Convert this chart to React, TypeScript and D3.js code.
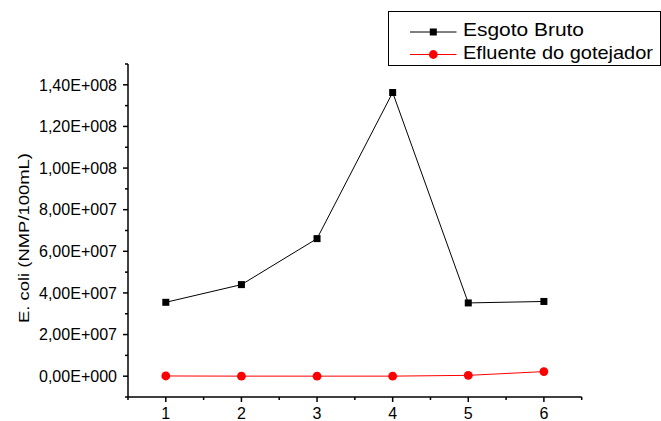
import React, { useEffect, useRef } from "react";
import * as d3 from "d3";

const campaigns = [1, 2, 3, 4, 5, 6];
const esgotoBruto = [3.55e7, 4.4e7, 6.61e7, 1.363e8, 3.52e7, 3.59e7];
const efluenteGotejador = [1.0e5, 3.0e4, 2.0e4, 3.0e4, 4.0e5, 2.2e6];
const yTicks = [0, 2e7, 4e7, 6e7, 8e7, 1e8, 1.2e8, 1.4e8];
const yTickLabels = ["0,00E+000", "2,00E+007", "4,00E+007", "6,00E+007", "8,00E+007", "1,00E+008", "1,20E+008", "1,40E+008"];
const seriesNames = ["Esgoto Bruto", "Efluente do gotejador"];

const FONT = "'Liberation Sans', Arial, sans-serif";

const App = () => {
    const ref = useRef<SVGSVGElement>(null);

    useEffect(() => {
        const svg = d3.select(ref.current);
        svg.selectAll("*").remove();

        const x = d3.scaleLinear().domain([0.5, 6.5]).range([128, 581.7]);
        const y = d3.scaleLinear().domain([-1e7, 1.5e8]).range([397, 64]);

        // axes lines
        const axis = svg.append("g").attr("stroke", "#000").attr("stroke-width", 1.5);
        axis.append("line").attr("x1", x(0.5)).attr("x2", x(6.5)).attr("y1", y(-1e7)).attr("y2", y(-1e7));
        axis.append("line").attr("x1", x(0.5)).attr("x2", x(0.5)).attr("y1", y(-1e7)).attr("y2", y(1.5e8));

        // y ticks (major + minor)
        const yMinor = d3.range(-1e7, 1.5e8 + 1, 2e7);
        axis.selectAll(".ymin").data(yMinor).join("line")
            .attr("x1", x(0.5) - 3).attr("x2", x(0.5))
            .attr("y1", d => y(d)).attr("y2", d => y(d));
        axis.selectAll(".ymaj").data(yTicks).join("line")
            .attr("x1", x(0.5) - 5).attr("x2", x(0.5))
            .attr("y1", d => y(d)).attr("y2", d => y(d));

        // x ticks
        const xMinor = d3.range(0.5, 6.51, 0.5).filter(d => !campaigns.includes(d));
        axis.selectAll(".xmin").data(xMinor).join("line")
            .attr("x1", d => x(d)).attr("x2", d => x(d))
            .attr("y1", y(-1e7)).attr("y2", y(-1e7) + 3);
        axis.selectAll(".xmaj").data(campaigns).join("line")
            .attr("x1", d => x(d)).attr("x2", d => x(d))
            .attr("y1", y(-1e7)).attr("y2", y(-1e7) + 5);

        // tick labels
        svg.append("g").selectAll("text").data(yTicks).join("text")
            .attr("x", 117).attr("y", d => y(d) + 5.8)
            .attr("text-anchor", "end")
            .attr("font-family", FONT).attr("font-size", 16)
            .attr("textLength", 78).attr("lengthAdjust", "spacingAndGlyphs")
            .text((d, i) => yTickLabels[i]);
        svg.append("g").selectAll("text").data(campaigns).join("text")
            .attr("x", d => x(d)).attr("y", 418.5)
            .attr("text-anchor", "middle")
            .attr("font-family", FONT).attr("font-size", 16)
            .text(d => String(d));

        // y label
        svg.append("text")
            .attr("transform", "translate(29,238) rotate(-90)")
            .attr("text-anchor", "middle")
            .attr("font-family", FONT).attr("font-size", 15)
            .attr("textLength", 170).attr("lengthAdjust", "spacingAndGlyphs")
            .text("E. coli (NMP/100mL)");

        const line = d3.line<number>().x((d, i) => x(campaigns[i])).y(d => y(d));

        // series 1
        svg.append("path").datum(esgotoBruto).attr("d", line)
            .attr("fill", "none").attr("stroke", "#000").attr("stroke-width", 1);
        svg.append("g").selectAll("rect").data(esgotoBruto).join("rect")
            .attr("x", (d, i) => x(campaigns[i]) - 3.5).attr("y", d => y(d) - 3.5)
            .attr("width", 7).attr("height", 7).attr("fill", "#000");

        // series 2
        svg.append("path").datum(efluenteGotejador).attr("d", line)
            .attr("fill", "none").attr("stroke", "#ff0000").attr("stroke-width", 1);
        svg.append("g").selectAll("circle").data(efluenteGotejador).join("circle")
            .attr("cx", (d, i) => x(campaigns[i])).attr("cy", d => y(d))
            .attr("r", 4.4).attr("fill", "#ff0000");

        // legend
        const lg = svg.append("g");
        lg.append("rect").attr("x", 388.5).attr("y", 11.5).attr("width", 272).attr("height", 54)
            .attr("fill", "#fff").attr("stroke", "#000").attr("stroke-width", 1);
        const rows = [32, 54.5];
        lg.append("line").attr("x1", 410).attr("x2", 456.5).attr("y1", rows[0]).attr("y2", rows[0])
            .attr("stroke", "#000").attr("stroke-width", 1);
        lg.append("rect").attr("x", 433.3 - 3.5).attr("y", rows[0] - 3.5).attr("width", 7).attr("height", 7).attr("fill", "#000");
        lg.append("line").attr("x1", 410).attr("x2", 456.5).attr("y1", rows[1]).attr("y2", rows[1])
            .attr("stroke", "#ff0000").attr("stroke-width", 1);
        lg.append("circle").attr("cx", 433.3).attr("cy", rows[1]).attr("r", 4.4).attr("fill", "#ff0000");
        lg.append("text").attr("x", 463).attr("y", 36)
            .attr("font-family", FONT).attr("font-size", 19)
            .attr("textLength", 121).attr("lengthAdjust", "spacingAndGlyphs")
            .text(seriesNames[0]);
        lg.append("text").attr("x", 463).attr("y", 58.5)
            .attr("font-family", FONT).attr("font-size", 19)
            .attr("textLength", 190).attr("lengthAdjust", "spacingAndGlyphs")
            .text(seriesNames[1]);
    }, []);

    return (
        <svg ref={ref} width={661} height={421}
            style={{ position: "absolute", left: 0, top: 0, background: "#fff" }} />
    );
};

export default App;
